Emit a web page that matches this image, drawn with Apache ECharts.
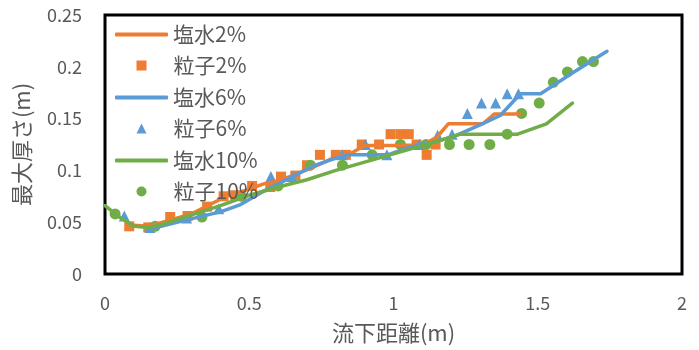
<!DOCTYPE html>
<html>
<head>
<meta charset="utf-8">
<script src="https://cdn.jsdelivr.net/npm/echarts@6/dist/echarts.min.js"></script>
<style>
  html, body { margin: 0; padding: 0; background: #fff; }
  #chart { width: 699px; height: 350px; }
</style>
</head>
<body>
<div id="chart"></div>
<script>
// Axis ticks
const xTicks = [0, 0.5, 1, 1.5, 2];
const yTicks = [0, 0.05, 0.1, 0.15, 0.2, 0.25];

// 塩水 (saline) lines: [流下距離, 最大厚さ]
const saline2 = [[0.10,0.047],[0.15,0.046],[0.20,0.050],[0.30,0.058],[0.35,0.065],[0.42,0.075],[0.50,0.082],[0.55,0.087],[0.60,0.090],[0.65,0.095],[0.72,0.103],[0.80,0.113],[0.85,0.116],[0.90,0.124],[1.00,0.124],[1.10,0.1245],[1.15,0.132],[1.19,0.145],[1.31,0.145],[1.35,0.1545],[1.44,0.1545]];
const saline6 = [[0.15,0.043],[0.28,0.052],[0.40,0.060],[0.47,0.067],[0.55,0.080],[0.60,0.087],[0.65,0.094],[0.72,0.104],[0.78,0.110],[0.84,0.115],[0.98,0.115],[1.05,0.122],[1.10,0.125],[1.15,0.128],[1.22,0.134],[1.30,0.144],[1.37,0.153],[1.44,0.174],[1.51,0.174],[1.62,0.194],[1.74,0.215]];
const saline10 = [[0,0.066],[0.05,0.055],[0.10,0.046],[0.15,0.045],[0.20,0.048],[0.30,0.057],[0.40,0.066],[0.50,0.076],[0.60,0.084],[0.70,0.091],[0.80,0.100],[0.90,0.108],[1.00,0.116],[1.10,0.124],[1.20,0.132],[1.23,0.135],[1.30,0.135],[1.43,0.135],[1.53,0.145],[1.62,0.165]];

// 粒子 (particle) measurements
const particle2 = [[0.084,0.046],[0.15,0.045],[0.226,0.055],[0.286,0.056],[0.354,0.065],[0.411,0.075],[0.451,0.076],[0.51,0.085],[0.573,0.084],[0.61,0.094],[0.66,0.095],[0.70,0.105],[0.745,0.115],[0.80,0.115],[0.835,0.115],[0.89,0.125],[0.95,0.125],[0.99,0.135],[1.024,0.135],[1.053,0.135],[1.08,0.125],[1.115,0.115],[1.146,0.125]];
const particle6 = [[0.067,0.056],[0.156,0.045],[0.283,0.054],[0.394,0.063],[0.575,0.094],[0.648,0.094],[0.822,0.115],[0.903,0.125],[0.977,0.115],[1.09,0.125],[1.153,0.134],[1.203,0.135],[1.256,0.155],[1.305,0.165],[1.354,0.165],[1.394,0.174],[1.433,0.174]];
const particle10 = [[0.035,0.058],[0.174,0.046],[0.336,0.055],[0.474,0.075],[0.60,0.085],[0.712,0.105],[0.823,0.105],[0.926,0.115],[1.024,0.125],[1.113,0.125],[1.194,0.125],[1.262,0.125],[1.334,0.125],[1.394,0.135],[1.444,0.155],[1.505,0.165],[1.554,0.185],[1.603,0.195],[1.655,0.205],[1.693,0.205]];

const ORANGE = '#ED7D31', BLUE = '#5B9BD5', GREEN = '#70AD47', TEXT = '#595959';
const FONT = '"Noto Sans CJK JP", "Noto Sans", sans-serif';

function lineSeries(name, data, color) {
  return {
    name, type: 'line', data, symbol: 'none', color,
    lineStyle: { width: 3.5, color, cap: 'round', join: 'round' },
    animation: false
  };
}
function dotSeries(name, data, color, symbol, size) {
  return {
    name, type: 'scatter', data, symbol, symbolSize: size, color,
    itemStyle: { color, opacity: 1 },
    animation: false
  };
}

const ROW = 31;          // legend row pitch
const LEGEND_TOP = 24;
const legendText = { color: TEXT, fontSize: 21, fontFamily: FONT, lineHeight: 20 };

const chart = echarts.init(document.getElementById('chart'), null, { renderer: 'canvas' });
chart.setOption({
  backgroundColor: '#fff',
  animation: false,
  textStyle: { fontFamily: FONT },
  grid: {
    left: 105, right: 17, top: 15, bottom: 76,
    show: true, borderColor: '#000', borderWidth: 3, backgroundColor: 'transparent'
  },
  legend: [
    {
      // line entries: a short bar in the series colour
      orient: 'vertical', left: 115, top: LEGEND_TOP, padding: 0,
      itemWidth: 53, itemHeight: 4, itemGap: ROW * 2 - 20,
      textStyle: legendText,
      data: [
        { name: '塩水2%', icon: 'roundRect' },
        { name: '塩水6%', icon: 'roundRect' },
        { name: '塩水10%', icon: 'roundRect' }
      ]
    },
    {
      // marker entries: symbol centred under the line samples
      orient: 'vertical', left: 136.5, top: LEGEND_TOP + ROW, padding: 0,
      itemWidth: 10, itemHeight: 10, itemGap: ROW * 2 - 20,
      textStyle: Object.assign({}, legendText, { padding: [0, 0, 0, 22] }),
      data: [
        { name: '粒子2%', icon: 'rect' },
        { name: '粒子6%', icon: 'triangle' },
        { name: '粒子10%', icon: 'circle' }
      ]
    }
  ],
  xAxis: {
    type: 'value', min: xTicks[0], max: xTicks[xTicks.length - 1], interval: 0.5,
    name: '流下距離(m)', nameLocation: 'middle', nameGap: 48,
    nameTextStyle: { color: TEXT, fontSize: 22, fontFamily: FONT },
    axisLine: { show: false }, axisTick: { show: false }, splitLine: { show: false },
    axisLabel: { color: TEXT, fontSize: 18, margin: 20, fontFamily: FONT }
  },
  yAxis: {
    type: 'value', min: yTicks[0], max: yTicks[yTicks.length - 1], interval: 0.05,
    name: '最大厚さ(m)', nameLocation: 'middle', nameGap: 72, nameRotate: 90,
    nameTextStyle: { color: TEXT, fontSize: 22, fontFamily: FONT },
    axisLine: { show: false }, axisTick: { show: false }, splitLine: { show: false },
    axisLabel: { color: TEXT, fontSize: 18, margin: 23, fontFamily: FONT }
  },
  series: [
    lineSeries('塩水2%', saline2, ORANGE),
    dotSeries('粒子2%', particle2, ORANGE, 'rect', 10),
    lineSeries('塩水6%', saline6, BLUE),
    dotSeries('粒子6%', particle6, BLUE, 'triangle', 11),
    lineSeries('塩水10%', saline10, GREEN),
    dotSeries('粒子10%', particle10, GREEN, 'circle', 11)
  ]
});
</script>
</body>
</html>
